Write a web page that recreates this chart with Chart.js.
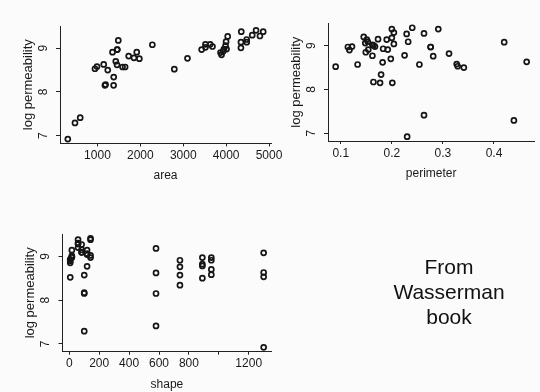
<!DOCTYPE html>
<html>
<head>
<meta charset="utf-8">
<script src="https://cdn.jsdelivr.net/npm/chart.js@4"></script>
<style>
  html, body { margin: 0; padding: 0; background: #fbfbfb; }
  #wrap { position: relative; width: 540px; height: 392px; overflow: hidden; }
  #wrap canvas { position: absolute; left: 0; top: 0; }
  #note {
    position: absolute; left: 349px; top: 254px; width: 200px;
    text-align: center; font: 21px 'Liberation Sans', Arial, sans-serif;
    line-height: 25px; color: #111;
  }
</style>
</head>
<body>
<div id="wrap">
  <canvas id="areaChart" width="540" height="392"></canvas>
  <canvas id="perimeterChart" width="540" height="392"></canvas>
  <canvas id="shapeChart" width="540" height="392"></canvas>
  <div id="note">From<br>Wasserman<br>book</div>
</div>
<script>
// values (48 rock samples)
const logPerm = [8.52, 8.85, 8.93, 8.90, 8.98, 8.98, 9.14, 9.01, 9.04, 8.77, 9.14, 9.06,
  9.27, 9.09, 9.15, 9.09, 9.30, 9.28, 9.38, 9.20, 8.97, 9.38, 9.41, 9.02,
  8.76, 8.34, 8.91, 8.57, 8.78, 8.50, 8.82, 8.97, 8.70, 8.58, 8.91, 8.97,
  8.15, 7.29, 8.17, 8.57, 8.53, 6.92, 8.63, 9.08, 8.15, 7.41, 8.62, 9.18];

const area = [2792, 3893, 3931, 3869, 3949, 4010, 4346, 4345, 3682, 3099, 4480, 3986,
  4037, 3518, 3999, 3629, 4609, 4788, 4864, 4479, 3429, 4353, 4698, 3518,
  1977, 1379, 1916, 1585, 1851, 1240, 1728, 1461, 1427, 990, 1351, 1461,
  1377, 476, 1189, 1645, 942, 309, 1146, 2280, 1174, 598, 1456, 1486];

const perimeter = [0.090, 0.149, 0.183, 0.117, 0.122, 0.167, 0.190, 0.164, 0.204, 0.162, 0.151, 0.148,
  0.229, 0.232, 0.173, 0.153, 0.204, 0.263, 0.200, 0.145, 0.114, 0.291, 0.240, 0.162,
  0.281, 0.179, 0.192, 0.133, 0.225, 0.341, 0.312, 0.276, 0.198, 0.327, 0.154, 0.276,
  0.177, 0.439, 0.164, 0.254, 0.329, 0.230, 0.464, 0.420, 0.201, 0.263, 0.182, 0.200];

const shape = [6.3, 6.3, 6.3, 6.3, 17.1, 17.1, 17.1, 17.1, 119, 119, 119, 119,
  82.4, 82.4, 82.4, 82.4, 58.6, 58.6, 58.6, 58.6, 142, 142, 142, 142,
  740, 740, 740, 740, 890, 890, 890, 890, 950, 950, 950, 950,
  100, 100, 100, 100, 1300, 1300, 1300, 1300, 580, 580, 580, 580];

// tick values and labels
const yTicks = [7, 8, 9];
const areaTicks = [1000, 2000, 3000, 4000, 5000];
const areaTickLabels = ['1000', '2000', '3000', '4000', '5000'];
const perimeterTicks = [0.1, 0.2, 0.3, 0.4];
const perimeterTickLabels = ['0.1', '0.2', '0.3', '0.4'];
const shapeTicks = [0, 200, 400, 600, 800, 1000, 1200];
const shapeTickLabels = ['0', '200', '400', '600', '800', '', '1200'];

const FONT = "'Liberation Sans', Arial, Helvetica, sans-serif";
const INK = '#151515';
const AXIS = '#222';

// R style range: data range stretched by 4% each side
function padRange(vals) {
  const lo = Math.min(...vals), hi = Math.max(...vals);
  const d = (hi - lo) * 0.04;
  return [lo - d, hi + d];
}

const yRange = padRange(logPerm);
const Y_AXIS_W = 45;
const X_AXIS_H = 38.7;

function makePanel(id, xs, xTicks, xLabels, xTitle, box) {
  const xRange = padRange(xs);
  new Chart(document.getElementById(id), {
    type: 'scatter',
    data: {
      datasets: [{
        data: xs.map((x, i) => ({ x: x, y: logPerm[i] })),
        pointRadius: 2.5,
        pointBorderWidth: 1.7,
        pointBorderColor: INK,
        pointBackgroundColor: 'rgba(0,0,0,0)',
        clip: false
      }]
    },
    options: {
      responsive: false,
      animation: false,
      devicePixelRatio: 1,
      layout: {
        padding: {
          left: box.left - Y_AXIS_W,
          top: box.top,
          right: 540 - box.right,
          bottom: 392 - box.bottom - X_AXIS_H
        }
      },
      plugins: { legend: { display: false }, tooltip: { enabled: false } },
      scales: {
        x: {
          type: 'linear',
          min: xRange[0],
          max: xRange[1],
          afterBuildTicks: s => { s.ticks = xTicks.map(v => ({ value: v })); },
          afterFit: s => { s.height = X_AXIS_H; },
          grid: { display: true, drawOnChartArea: false, drawTicks: true, tickLength: 3, color: AXIS },
          border: { display: true, color: AXIS, width: 1 },
          ticks: {
            autoSkip: false, maxRotation: 0, padding: 2, color: '#1a1a1a',
            font: { family: FONT, size: 12 },
            callback: (v, i) => xLabels[i]
          },
          title: {
            display: true, text: xTitle, color: '#1a1a1a',
            font: { family: FONT, size: 12, lineHeight: 1 },
            padding: { top: 0, bottom: 0 }
          }
        },
        y: {
          type: 'linear',
          min: yRange[0],
          max: yRange[1],
          afterBuildTicks: s => { s.ticks = yTicks.map(v => ({ value: v })); },
          afterFit: s => { s.width = Y_AXIS_W; },
          grid: { display: true, drawOnChartArea: false, drawTicks: true, tickLength: 4, color: AXIS },
          border: { display: true, color: AXIS, width: 1 },
          ticks: {
            minRotation: 90, maxRotation: 90, crossAlign: 'center', padding: 9,
            color: '#1a1a1a', font: { family: FONT, size: 12 },
            callback: v => String(v)
          },
          title: {
            display: true, text: 'log permeability', color: '#1a1a1a',
            font: { family: FONT, size: 13, lineHeight: 1 },
            padding: { top: 6.5, bottom: 0 }
          }
        }
      }
    }
  });
}

makePanel('areaChart', area, areaTicks, areaTickLabels, 'area',
  { left: 60, top: 26, right: 271, bottom: 143.4 });
makePanel('perimeterChart', perimeter, perimeterTicks, perimeterTickLabels, 'perimeter',
  { left: 328, top: 23.4, right: 537, bottom: 141 });
makePanel('shapeChart', shape, shapeTicks, shapeTickLabels, 'shape',
  { left: 62.5, top: 234, right: 271.4, bottom: 351.7 });
</script>
</body>
</html>
